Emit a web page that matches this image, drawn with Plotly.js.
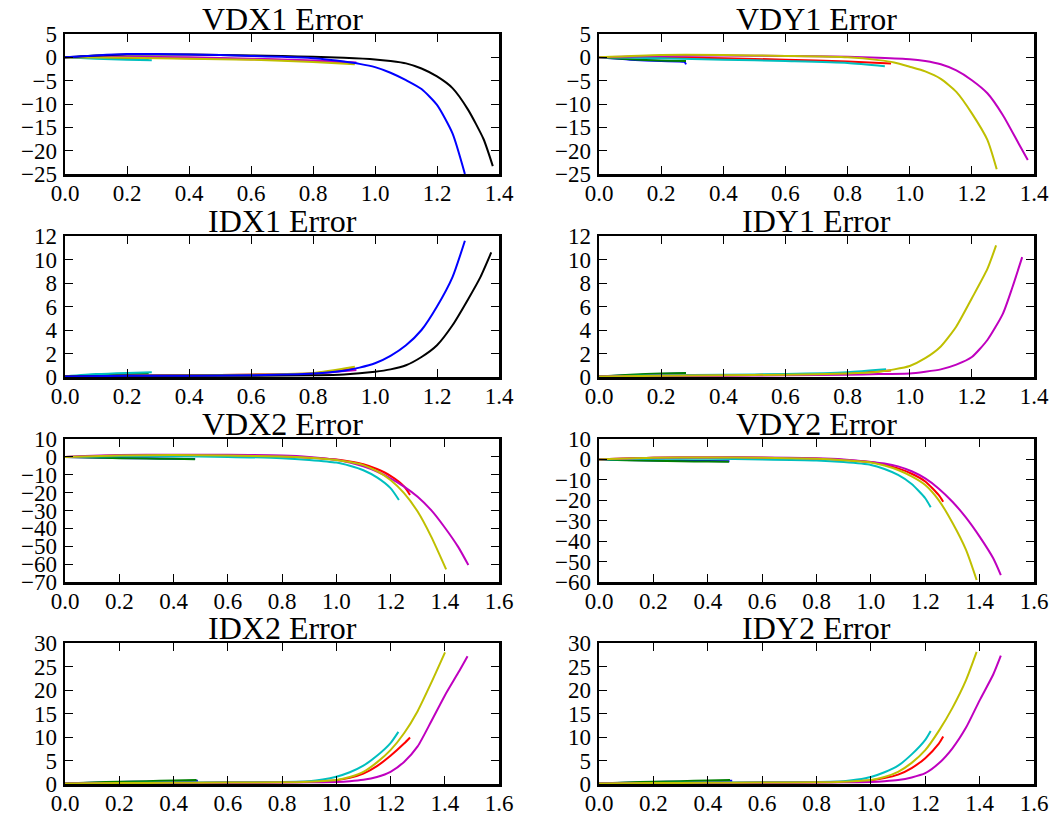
<!DOCTYPE html>
<html>
<head>
<meta charset="utf-8">
<script src="https://cdn.plot.ly/plotly-3.0.1.min.js"></script>
<style>html,body{margin:0;padding:0;background:#fff;}#chart{width:1051px;height:823px;}</style>
</head>
<body>
<div id="chart"></div>
<script>
// ---- panel titles ----
const panelTitles = ["VDX1 Error", "VDY1 Error", "IDX1 Error", "IDY1 Error", "VDX2 Error", "VDY2 Error", "IDX2 Error", "IDY2 Error"];

// ---- VDX1 ----
const vdx1_blue_x   = [0, 0.1, 0.2, 0.3, 0.4, 0.5, 0.6, 0.7, 0.8, 0.85, 0.9, 0.95, 1.0, 1.05, 1.1, 1.15, 1.2, 1.25, 1.29];
const vdx1_blue_y   = [0, 0.4, 0.7, 0.7, 0.6, 0.5, 0.3, 0.1, -0.2, -0.5, -0.9, -1.4, -2.1, -3.3, -4.9, -6.8, -10.2, -16.3, -25];
const vdx1_green_x  = [0, 0.1, 0.2, 0.27];
const vdx1_green_y  = [0, -0.1, -0.2, -0.3];
const vdx1_red_x    = [0, 0.2, 0.4, 0.6, 0.8, 0.93];
const vdx1_red_y    = [0, 0, -0.2, -0.4, -0.8, -1.2];
const vdx1_cyan_x   = [0, 0.1, 0.2, 0.28];
const vdx1_cyan_y   = [0, -0.3, -0.5, -0.6];
const vdx1_mag_x    = [0, 0.2, 0.4, 0.6, 0.8, 0.94];
const vdx1_mag_y    = [0, 0.1, 0, -0.3, -0.7, -1.1];
const vdx1_yel_x    = [0, 0.2, 0.4, 0.6, 0.8, 0.935];
const vdx1_yel_y    = [0, -0.1, -0.3, -0.5, -1.0, -1.5];
const vdx1_black_x  = [0, 0.1, 0.2, 0.3, 0.4, 0.5, 0.6, 0.7, 0.8, 0.9, 1.0, 1.05, 1.1, 1.15, 1.2, 1.25, 1.3, 1.35, 1.38];
const vdx1_black_y  = [0, 0.4, 0.6, 0.6, 0.6, 0.5, 0.4, 0.3, 0.1, -0.1, -0.45, -0.8, -1.3, -2.4, -4.1, -6.6, -11.2, -17.5, -23.3];

// ---- VDY1 ----
const vdy1_blue_x   = [0, 0.1, 0.2, 0.275, 0.28];
const vdy1_blue_y   = [0, -0.5, -0.8, -1.0, -1.5];
const vdy1_green_x  = [0, 0.1, 0.2, 0.28];
const vdy1_green_y  = [0, -0.4, -0.7, -0.8];
const vdy1_red_x    = [0, 0.2, 0.4, 0.6, 0.8, 0.94];
const vdy1_red_y    = [0, 0, -0.2, -0.5, -0.9, -1.3];
const vdy1_cyan_x   = [0, 0.2, 0.4, 0.6, 0.8, 0.92];
const vdy1_cyan_y   = [0, -0.2, -0.5, -0.8, -1.2, -1.9];
const vdy1_mag_x    = [0, 0.2, 0.4, 0.6, 0.8, 0.9, 1.0, 1.05, 1.1, 1.15, 1.2, 1.25, 1.3, 1.35, 1.38];
const vdy1_mag_y    = [0, 0.3, 0.4, 0.3, 0.1, -0.1, -0.4, -0.8, -1.5, -2.8, -4.9, -7.7, -12.4, -18.4, -22];
const vdy1_yel_x    = [0, 0.2, 0.4, 0.6, 0.8, 0.9, 0.95, 1.0, 1.05, 1.1, 1.15, 1.2, 1.25, 1.28];
const vdy1_yel_y    = [0, 0.5, 0.5, 0.3, 0, -0.6, -1.1, -2.0, -3.0, -4.6, -7.4, -12.0, -17.7, -24];

// ---- IDX1 ----
const idx1_blue_x   = [0, 0.2, 0.4, 0.6, 0.8, 0.9, 0.95, 1.0, 1.05, 1.1, 1.15, 1.2, 1.25, 1.29];
const idx1_blue_y   = [0.05, 0.1, 0.1, 0.15, 0.3, 0.54, 0.8, 1.17, 1.8, 2.7, 4.0, 6.0, 8.5, 11.6];
const idx1_green_x  = [0, 0.1, 0.2, 0.27];
const idx1_green_y  = [0.05, 0.15, 0.25, 0.3];
const idx1_red_x    = [0, 0.2, 0.4, 0.6, 0.8, 0.93];
const idx1_red_y    = [0.05, 0.1, 0.15, 0.2, 0.3, 0.7];
const idx1_cyan_x   = [0, 0.1, 0.2, 0.28];
const idx1_cyan_y   = [0.05, 0.25, 0.35, 0.4];
const idx1_mag_x    = [0, 0.2, 0.4, 0.6, 0.8, 0.94];
const idx1_mag_y    = [0.05, 0.1, 0.15, 0.2, 0.3, 0.6];
const idx1_yel_x    = [0, 0.2, 0.4, 0.6, 0.8, 0.935];
const idx1_yel_y    = [0.05, 0.1, 0.15, 0.2, 0.35, 0.88];
const idx1_black_x  = [0, 0.2, 0.4, 0.6, 0.8, 0.9, 1.0, 1.05, 1.1, 1.15, 1.2, 1.25, 1.3, 1.34, 1.375];
const idx1_black_y  = [0.05, 0.1, 0.1, 0.1, 0.15, 0.22, 0.45, 0.65, 1.0, 1.7, 2.7, 4.4, 6.6, 8.5, 10.6];

// ---- IDY1 ----
const idy1_blue_x   = [0, 0.1, 0.2, 0.28];
const idy1_blue_y   = [0.05, 0.15, 0.25, 0.3];
const idy1_green_x  = [0, 0.1, 0.2, 0.28];
const idy1_green_y  = [0.05, 0.2, 0.3, 0.35];
const idy1_red_x    = [0, 0.2, 0.4, 0.6, 0.8, 0.94];
const idy1_red_y    = [0.05, 0.1, 0.15, 0.2, 0.3, 0.55];
const idy1_cyan_x   = [0, 0.2, 0.4, 0.6, 0.8, 0.924];
const idy1_cyan_y   = [0.05, 0.15, 0.2, 0.25, 0.4, 0.65];
const idy1_mag_x    = [0, 0.2, 0.4, 0.6, 0.8, 0.9, 1.0, 1.05, 1.1, 1.15, 1.2, 1.25, 1.3, 1.33, 1.362];
const idy1_mag_y    = [0.05, 0.1, 0.1, 0.15, 0.2, 0.25, 0.3, 0.45, 0.65, 1.05, 1.7, 3.15, 5.4, 7.6, 10.2];
const idy1_yel_x    = [0, 0.2, 0.4, 0.6, 0.8, 0.9, 0.95, 1.0, 1.05, 1.1, 1.15, 1.2, 1.25, 1.278];
const idy1_yel_y    = [0.05, 0.1, 0.15, 0.2, 0.3, 0.45, 0.65, 0.94, 1.6, 2.6, 4.3, 6.7, 9.2, 11.2];

// ---- VDX2 ----
const vdx2_blue_x   = [0, 0.1, 0.2, 0.3, 0.4, 0.48];
const vdx2_blue_y   = [0, -0.3, -0.6, -0.8, -1.0, -1.2];
const vdx2_green_x  = [0, 0.1, 0.2, 0.3, 0.4, 0.479];
const vdx2_green_y  = [0, -0.4, -0.7, -0.9, -1.1, -1.3];
const vdx2_red_x    = [0, 0.2, 0.4, 0.6, 0.8, 0.9, 1.0, 1.05, 1.1, 1.15, 1.2, 1.25, 1.272];
const vdx2_red_y    = [0, 0.8, 1, 0.8, 0.2, -0.5, -1.5, -2.6, -4.1, -6.8, -10.6, -16.5, -21.3];
const vdx2_cyan_x   = [0, 0.2, 0.4, 0.6, 0.8, 0.9, 1.0, 1.05, 1.1, 1.15, 1.2, 1.231];
const vdx2_cyan_y   = [0, 0.3, 0.3, 0, -0.7, -1.7, -3.2, -5.0, -7.5, -11.5, -17.5, -24.1];
const vdx2_mag_x    = [0, 0.2, 0.4, 0.6, 0.8, 0.9, 1.0, 1.05, 1.1, 1.15, 1.2, 1.25, 1.3, 1.35, 1.4, 1.45, 1.487];
const vdx2_mag_y    = [0, 1, 1.2, 1.2, 0.8, 0, -1.6, -3.2, -5.3, -8.2, -12, -16.6, -22.3, -29.8, -39.5, -50.5, -60.5];
const vdx2_yel_x    = [0, 0.2, 0.4, 0.6, 0.8, 0.9, 1.0, 1.05, 1.1, 1.15, 1.2, 1.25, 1.3, 1.35, 1.405];
const vdx2_yel_y    = [0, 0.8, 1, 0.8, 0.2, -0.5, -1.7, -2.9, -4.6, -8.0, -12.9, -20.3, -30.6, -44.6, -62.9];

// ---- VDY2 ----
const vdy2_blue_x   = [0, 0.1, 0.2, 0.3, 0.4, 0.48];
const vdy2_blue_y   = [0, -0.3, -0.5, -0.7, -0.8, -0.9];
const vdy2_green_x  = [0, 0.1, 0.2, 0.3, 0.4, 0.478];
const vdy2_green_y  = [0, -0.4, -0.7, -0.9, -1.0, -1.1];
const vdy2_red_x    = [0, 0.2, 0.4, 0.6, 0.8, 0.9, 1.0, 1.05, 1.1, 1.15, 1.2, 1.25, 1.266];
const vdy2_red_y    = [0, 0.8, 1, 0.8, 0.3, -0.3, -1.3, -2.6, -4.4, -7.0, -10.8, -17.5, -20.7];
const vdy2_cyan_x   = [0, 0.2, 0.4, 0.6, 0.8, 0.9, 1.0, 1.05, 1.1, 1.15, 1.2, 1.22];
const vdy2_cyan_y   = [0, 0.3, 0.3, 0, -0.5, -1.3, -2.7, -4.7, -7.6, -12, -19, -23.4];
const vdy2_mag_x    = [0, 0.2, 0.4, 0.6, 0.8, 0.9, 1.0, 1.05, 1.1, 1.15, 1.2, 1.25, 1.3, 1.35, 1.4, 1.45, 1.478];
const vdy2_mag_y    = [0, 0.8, 1, 1, 0.6, 0, -1.2, -2.0, -3.4, -5.8, -9.3, -14.3, -20.7, -28.5, -37.8, -48.4, -56.6];
const vdy2_yel_x    = [0, 0.2, 0.4, 0.6, 0.8, 0.9, 1.0, 1.05, 1.1, 1.15, 1.2, 1.25, 1.3, 1.35, 1.389];
const vdy2_yel_y    = [0, 0.8, 1, 0.8, 0.3, -0.4, -1.5, -3.0, -5.2, -8.3, -12.5, -20.0, -31.0, -44.3, -59];

// ---- IDX2 ----
const idx2_blue_x   = [0, 0.1, 0.2, 0.3, 0.4, 0.49];
const idx2_blue_y   = [0.1, 0.25, 0.4, 0.5, 0.6, 0.7];
const idx2_green_x  = [0, 0.1, 0.2, 0.3, 0.4, 0.485];
const idx2_green_y  = [0.1, 0.3, 0.5, 0.6, 0.75, 0.85];
const idx2_red_x    = [0, 0.2, 0.4, 0.6, 0.8, 0.9, 1.0, 1.05, 1.1, 1.15, 1.2, 1.25, 1.272];
const idx2_red_y    = [0.1, 0.2, 0.25, 0.3, 0.35, 0.5, 0.8, 1.3, 2.2, 3.8, 6.0, 8.6, 9.9];
const idx2_cyan_x   = [0, 0.2, 0.4, 0.6, 0.8, 0.9, 0.95, 1.0, 1.05, 1.1, 1.15, 1.2, 1.229];
const idx2_cyan_y   = [0.1, 0.2, 0.3, 0.35, 0.45, 0.6, 0.95, 1.55, 2.5, 3.9, 6.0, 8.7, 11.1];
const idx2_mag_x    = [0, 0.2, 0.4, 0.6, 0.8, 0.9, 1.0, 1.05, 1.1, 1.15, 1.2, 1.25, 1.3, 1.35, 1.4, 1.45, 1.484];
const idx2_mag_y    = [0.1, 0.15, 0.2, 0.25, 0.3, 0.35, 0.45, 0.6, 0.9, 1.5, 2.6, 4.7, 8.0, 13.3, 18.8, 23.7, 27.2];
const idx2_yel_x    = [0, 0.2, 0.4, 0.6, 0.8, 0.9, 1.0, 1.05, 1.1, 1.15, 1.2, 1.25, 1.3, 1.35, 1.401];
const idx2_yel_y    = [0.1, 0.2, 0.25, 0.3, 0.35, 0.5, 0.85, 1.5, 2.6, 4.6, 7.2, 10.8, 15.5, 21.5, 28];

// ---- IDY2 ----
const idy2_blue_x   = [0, 0.1, 0.2, 0.3, 0.4, 0.49];
const idy2_blue_y   = [0.1, 0.25, 0.4, 0.5, 0.6, 0.7];
const idy2_green_x  = [0, 0.1, 0.2, 0.3, 0.4, 0.482];
const idy2_green_y  = [0.1, 0.3, 0.5, 0.6, 0.75, 0.85];
const idy2_red_x    = [0, 0.2, 0.4, 0.6, 0.8, 0.9, 1.0, 1.05, 1.1, 1.15, 1.2, 1.25, 1.266];
const idy2_red_y    = [0.1, 0.2, 0.25, 0.3, 0.35, 0.5, 0.8, 1.25, 2.0, 3.4, 5.5, 8.6, 10.1];
const idy2_cyan_x   = [0, 0.2, 0.4, 0.6, 0.8, 0.9, 0.95, 1.0, 1.05, 1.1, 1.15, 1.2, 1.22];
const idy2_cyan_y   = [0.1, 0.2, 0.3, 0.35, 0.45, 0.6, 0.95, 1.5, 2.5, 3.9, 6.3, 9.4, 11.3];
const idy2_mag_x    = [0, 0.2, 0.4, 0.6, 0.8, 0.9, 1.0, 1.05, 1.1, 1.15, 1.2, 1.25, 1.3, 1.35, 1.4, 1.45, 1.478];
const idy2_mag_y    = [0.1, 0.15, 0.2, 0.25, 0.3, 0.35, 0.45, 0.6, 0.85, 1.4, 2.3, 4.4, 7.6, 12, 17.8, 23.3, 27.3];
const idy2_yel_x    = [0, 0.2, 0.4, 0.6, 0.8, 0.9, 1.0, 1.05, 1.1, 1.15, 1.2, 1.25, 1.3, 1.35, 1.389];
const idy2_yel_y    = [0.1, 0.2, 0.25, 0.3, 0.35, 0.5, 0.85, 1.5, 2.6, 4.5, 7.2, 11.3, 16.2, 22.1, 28.1];

// ---- axis ranges / ticks ----
const xRanges  = [[0,1.4],[0,1.4],[0,1.4],[0,1.4],[0,1.6],[0,1.6],[0,1.6],[0,1.6]];
const yRanges  = [[-25,5],[-25,5],[0,12],[0,12],[-70,10],[-60,10],[0,30],[0,30]];
const yDtick   = [5,5,2,2,10,10,5,5];

// ---- colours (classic matplotlib cycle) ----
const C = {b:'#0000ff', g:'#008000', r:'#ff0000', c:'#00bfbf', m:'#bf00bf', y:'#bfbf00', k:'#000000'};

const panels = [
  [[vdx1_green_x,vdx1_green_y,'g'],[vdx1_red_x,vdx1_red_y,'r'],[vdx1_cyan_x,vdx1_cyan_y,'c'],[vdx1_mag_x,vdx1_mag_y,'m'],[vdx1_yel_x,vdx1_yel_y,'y'],[vdx1_black_x,vdx1_black_y,'k'],[vdx1_blue_x,vdx1_blue_y,'b']],
  [[vdy1_blue_x,vdy1_blue_y,'b'],[vdy1_green_x,vdy1_green_y,'g'],[vdy1_red_x,vdy1_red_y,'r'],[vdy1_cyan_x,vdy1_cyan_y,'c'],[vdy1_mag_x,vdy1_mag_y,'m'],[vdy1_yel_x,vdy1_yel_y,'y']],
  [[idx1_green_x,idx1_green_y,'g'],[idx1_red_x,idx1_red_y,'r'],[idx1_cyan_x,idx1_cyan_y,'c'],[idx1_mag_x,idx1_mag_y,'m'],[idx1_yel_x,idx1_yel_y,'y'],[idx1_black_x,idx1_black_y,'k'],[idx1_blue_x,idx1_blue_y,'b']],
  [[idy1_blue_x,idy1_blue_y,'b'],[idy1_green_x,idy1_green_y,'g'],[idy1_red_x,idy1_red_y,'r'],[idy1_cyan_x,idy1_cyan_y,'c'],[idy1_mag_x,idy1_mag_y,'m'],[idy1_yel_x,idy1_yel_y,'y']],
  [[vdx2_blue_x,vdx2_blue_y,'b'],[vdx2_green_x,vdx2_green_y,'g'],[vdx2_red_x,vdx2_red_y,'r'],[vdx2_cyan_x,vdx2_cyan_y,'c'],[vdx2_mag_x,vdx2_mag_y,'m'],[vdx2_yel_x,vdx2_yel_y,'y']],
  [[vdy2_blue_x,vdy2_blue_y,'b'],[vdy2_green_x,vdy2_green_y,'g'],[vdy2_red_x,vdy2_red_y,'r'],[vdy2_cyan_x,vdy2_cyan_y,'c'],[vdy2_mag_x,vdy2_mag_y,'m'],[vdy2_yel_x,vdy2_yel_y,'y']],
  [[idx2_blue_x,idx2_blue_y,'b'],[idx2_green_x,idx2_green_y,'g'],[idx2_red_x,idx2_red_y,'r'],[idx2_cyan_x,idx2_cyan_y,'c'],[idx2_mag_x,idx2_mag_y,'m'],[idx2_yel_x,idx2_yel_y,'y']],
  [[idy2_blue_x,idy2_blue_y,'b'],[idy2_green_x,idy2_green_y,'g'],[idy2_red_x,idy2_red_y,'r'],[idy2_cyan_x,idy2_cyan_y,'c'],[idy2_mag_x,idy2_mag_y,'m'],[idy2_yel_x,idy2_yel_y,'y']]
];

// ---- layout geometry (pixels) ----
const W = 1051, H = 823;
const colPx = [[65,499],[599,1034]];
const rowPx = [[34,174],[236,377],[439,582],[643,784]];
const FONT = 'Liberation Serif, DejaVu Serif, serif';

const traces = [];
const layout = {
  width: W, height: H,
  margin: {l:0, r:0, t:0, b:0},
  paper_bgcolor: '#ffffff', plot_bgcolor: '#ffffff',
  showlegend: false,
  font: {family: FONT, color: '#000', size: 23},
  annotations: []
};

for (let i = 0; i < 8; i++) {
  const row = Math.floor(i/2), col = i % 2;
  const n = i + 1;
  const xa = 'x' + (n === 1 ? '' : n), ya = 'y' + (n === 1 ? '' : n);
  const xkey = 'xaxis' + (n === 1 ? '' : n), ykey = 'yaxis' + (n === 1 ? '' : n);
  const xd = [colPx[col][0]/W, colPx[col][1]/W];
  const yd = [1 - rowPx[row][1]/H, 1 - rowPx[row][0]/H];
  const axCommon = {
    showgrid: false, zeroline: false, showline: true, linecolor: '#000', linewidth: 2.5,
    mirror: 'ticks', ticks: 'inside', ticklen: 8, tickwidth: 1, tickcolor: '#000',
    tickfont: {family: FONT, size: 23, color: '#000'}, fixedrange: true
  };
  layout[xkey] = Object.assign({}, axCommon, {
    domain: xd, anchor: ya, range: xRanges[i], dtick: 0.2, tick0: 0, tickformat: '.1f',
    ticklabelstandoff: -3
  });
  layout[ykey] = Object.assign({}, axCommon, {
    domain: yd, anchor: xa, range: yRanges[i], dtick: yDtick[i], tick0: 0, tickformat: 'd',
    ticklabelstandoff: 1
  });
  for (const [xs, ys, c] of panels[i]) {
    traces.push({x: xs, y: ys, xaxis: xa, yaxis: ya, type: 'scatter', mode: 'lines',
      line: {color: C[c], width: 2, shape: 'spline', smoothing: 0.6}, hoverinfo: 'skip', cliponaxis: true});
  }
  layout.annotations.push({
    text: panelTitles[i], xref: 'paper', yref: 'paper',
    x: (xd[0]+xd[1])/2, y: yd[1], xanchor: 'center', yanchor: 'bottom', yshift: -5,
    showarrow: false, font: {family: FONT, size: 32, color: '#000'}
  });
}

Plotly.newPlot('chart', traces, layout, {displayModeBar: false, staticPlot: true});
</script>
</body>
</html>
